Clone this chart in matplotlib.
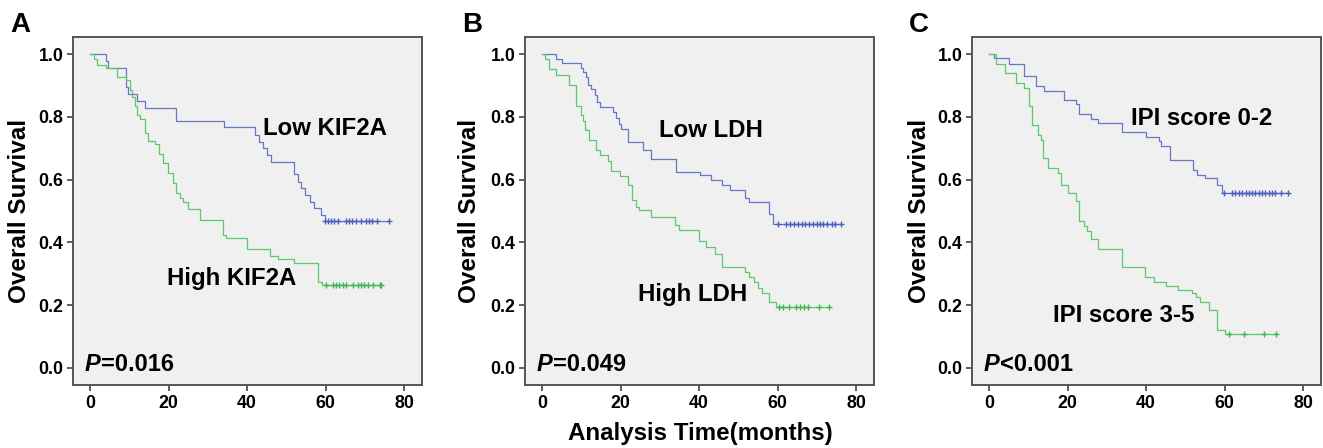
import matplotlib
matplotlib.use("Agg")
import matplotlib.pyplot as plt

plt.rcParams["font.family"] = ["Liberation Sans", "DejaVu Sans"]
plt.rcParams["font.weight"] = "bold"

BLUE = "#6677c8"
BLUE_MARK = "#4a5fbf"
GREEN = "#5ec86c"
GREEN_MARK = "#3fb553"

# Panel A: KIF2A
a_low_t = [4.1, 4.7, 9.1, 9.7, 11.9, 14.0, 22.0, 34.0, 42.1, 42.9, 44.0, 45.1, 46.0,
           52.0, 52.9, 53.8, 54.8, 55.9, 57.0, 58.8, 59.7]
a_low_s = [0.98, 0.957, 0.895, 0.872, 0.852, 0.83, 0.788, 0.767, 0.743, 0.721, 0.70, 0.679, 0.657,
           0.618, 0.594, 0.572, 0.551, 0.53, 0.509, 0.487, 0.468]
a_low_c = [59.7, 60.5, 61.4, 62.2, 63.1, 65.2, 66.0, 66.7, 67.7, 69.0, 70.3, 71.1, 71.9, 73.0, 76.2]
a_high_t = [1.0, 1.7, 4.1, 6.9, 9.1, 10.2, 10.8, 11.4, 12.0, 12.7, 14.1, 14.8, 16.5, 17.6, 18.6,
            19.9, 21.2, 22.0, 22.9, 23.7, 25.0, 27.9, 33.9, 34.7, 40.0, 45.7, 47.8, 52.0, 58.0, 59.1]
a_high_s = [0.985, 0.966, 0.955, 0.929, 0.918, 0.886, 0.865, 0.835, 0.806, 0.793, 0.748, 0.724,
            0.714, 0.682, 0.652, 0.622, 0.588, 0.556, 0.54, 0.53, 0.505, 0.471, 0.423, 0.413,
            0.378, 0.356, 0.346, 0.333, 0.274, 0.264]
a_high_c = [60.1, 61.8, 62.6, 63.5, 64.3, 65.2, 66.9, 68.1, 69.0, 69.8, 70.7, 72.0, 73.7, 74.1]

# Panel B: LDH
b_low_t = [3.7, 5.1, 9.9, 10.5, 11.2, 11.8, 12.5, 13.6, 13.9, 14.9, 18.0, 18.8, 19.7, 20.1,
           21.8, 25.8, 27.8, 34.0, 40.1, 43.1, 45.9, 47.9, 51.8, 52.8, 57.9, 58.8]
b_low_s = [0.984, 0.971, 0.957, 0.944, 0.928, 0.902, 0.888, 0.87, 0.848, 0.832, 0.816, 0.798,
           0.779, 0.763, 0.72, 0.694, 0.667, 0.624, 0.614, 0.598, 0.584, 0.568, 0.542, 0.528,
           0.491, 0.457]
b_low_c = [60.0, 62.2, 63.2, 64.1, 65.2, 66.1, 66.9, 68.0, 68.9, 69.9, 70.7, 71.6, 72.6, 73.7,
           74.6, 76.2]
b_high_t = [0.85, 1.7, 3.6, 6.8, 8.8, 9.9, 10.5, 11.0, 11.9, 13.7, 14.9, 16.7, 17.7, 19.9,
            22.0, 22.8, 23.9, 24.8, 27.8, 33.9, 34.8, 39.9, 41.8, 44.1, 45.9, 51.8, 52.8, 53.9,
            55.0, 56.0, 57.9, 59.6]
b_high_s = [0.984, 0.952, 0.934, 0.902, 0.835, 0.806, 0.788, 0.758, 0.726, 0.694, 0.678, 0.66,
            0.628, 0.612, 0.582, 0.534, 0.512, 0.502, 0.482, 0.454, 0.438, 0.403, 0.386, 0.363,
            0.322, 0.307, 0.29, 0.272, 0.254, 0.238, 0.211, 0.194]
b_high_c = [60.3, 61.3, 62.8, 64.7, 65.7, 66.6, 67.7, 70.6, 73.0]

# Panel C: IPI score
c_low_t = [1.35, 5.0, 9.0, 11.9, 14.0, 19.0, 22.1, 22.8, 25.9, 27.8, 33.9, 39.9, 43.3, 43.9,
           46.0, 51.9, 53.0, 55.1, 58.1, 59.3]
c_low_s = [0.987, 0.970, 0.931, 0.899, 0.883, 0.853, 0.840, 0.81, 0.795, 0.781, 0.753, 0.735,
           0.723, 0.707, 0.664, 0.632, 0.616, 0.605, 0.584, 0.557]
c_low_c = [59.8, 61.9, 62.7, 63.6, 64.4, 65.3, 66.1, 67.0, 67.8, 68.6, 69.5, 70.3, 71.2, 72.0,
           72.9, 74.2, 76.1]
c_high_t = [1.9, 4.1, 6.9, 9.0, 10.1, 10.9, 12.4, 13.2, 13.8, 15.1, 17.7, 18.3, 20.0, 22.1,
            22.9, 24.2, 25.0, 25.9, 27.8, 33.9, 39.7, 42.0, 45.1, 48.2, 51.7, 52.6, 53.8, 56.0,
            58.1, 60.2]
c_high_s = [0.970, 0.939, 0.907, 0.893, 0.835, 0.774, 0.742, 0.726, 0.669, 0.637, 0.621, 0.584,
            0.557, 0.531, 0.467, 0.451, 0.437, 0.411, 0.379, 0.322, 0.29, 0.274, 0.26, 0.248,
            0.237, 0.226, 0.21, 0.184, 0.12, 0.109]
c_high_c = [61.0, 65.0, 70.0, 73.0]

PANELS = [
  ("A", 73, [(a_low_t, a_low_s, a_low_c, BLUE, BLUE_MARK), (a_high_t, a_high_s, a_high_c, GREEN, GREEN_MARK)],
   [("Low KIF2A", 44.0, 0.763), ("High KIF2A", 19.5, 0.285)], "=0.016", -0.154),
  ("B", 525, [(b_low_t, b_low_s, b_low_c, BLUE, BLUE_MARK), (b_high_t, b_high_s, b_high_c, GREEN, GREEN_MARK)],
   [("Low LDH", 29.7, 0.758), ("High LDH", 24.4, 0.235)], "=0.049", -0.158),
  ("C", 972, [(c_low_t, c_low_s, c_low_c, BLUE, BLUE_MARK), (c_high_t, c_high_s, c_high_c, GREEN, GREEN_MARK)],
   [("IPI score 0-2", 36.2, 0.795), ("IPI score 3-5", 16.3, 0.168)], "<0.001", -0.149),
]

W, H = 1323, 448
fig = plt.figure(figsize=(W / 100, H / 100), dpi=100)

for letter, left_px, curves, labels, pval, ylab_x in PANELS:
  ax = fig.add_axes([left_px / W, 1 - 385 / H, 349 / W, 348 / H])
  ax.set_facecolor("#f0f0f0")
  for times, surv, cens, color, mcolor in curves:
    xs = [0] + times + [cens[-1]]
    ys = [1.0] + surv + [surv[-1]]
    ax.plot(xs, ys, drawstyle="steps-post", color=color, lw=0.9)
    ax.plot(cens, [surv[-1]] * len(cens), ls="none", marker="+", ms=5, mew=1.0, color=mcolor)
  for text, x, y in labels:
    ax.text(x, y, text, fontsize=17.3, fontweight="bold", ha="left", va="center")
  ax.text(-1.4, 0.01, "P", fontsize=17, fontweight="bold", style="italic", ha="left", va="center")
  ax.text(2.7, 0.01, pval, fontsize=17, fontweight="bold", ha="left", va="center")
  ax.set_xlim(-4.3, 84.5)
  ax.set_ylim(-0.055, 1.055)
  ax.set_xticks([0, 20, 40, 60, 80])
  ax.set_yticks([0.0, 0.2, 0.4, 0.6, 0.8, 1.0])
  ax.set_yticklabels([f"{v:.1f}" for v in [0.0, 0.2, 0.4, 0.6, 0.8, 1.0]])
  ax.tick_params(direction="out", length=4, width=1.2, labelsize=12.8, pad=3, color="#444444")
  for lab in ax.get_xticklabels() + ax.get_yticklabels():
    lab.set_fontweight("bold")
  for sp in ax.spines.values():
    sp.set_color("#555555")
    sp.set_linewidth(1.4)
  ax.text(ylab_x, 0.5, "Overall Survival", transform=ax.transAxes, rotation=90,
          fontsize=17.5, fontweight="bold", ha="center", va="center")
  fig.text((left_px - 63) / W, 1 - 25 / H, letter, fontsize=20, fontweight="bold",
           ha="left", va="center")

fig.text(700 / W, 1 - 433 / H, "Analysis Time(months)", fontsize=17.4, fontweight="bold",
         ha="center", va="center")

fig.savefig("out.png", dpi=100)
